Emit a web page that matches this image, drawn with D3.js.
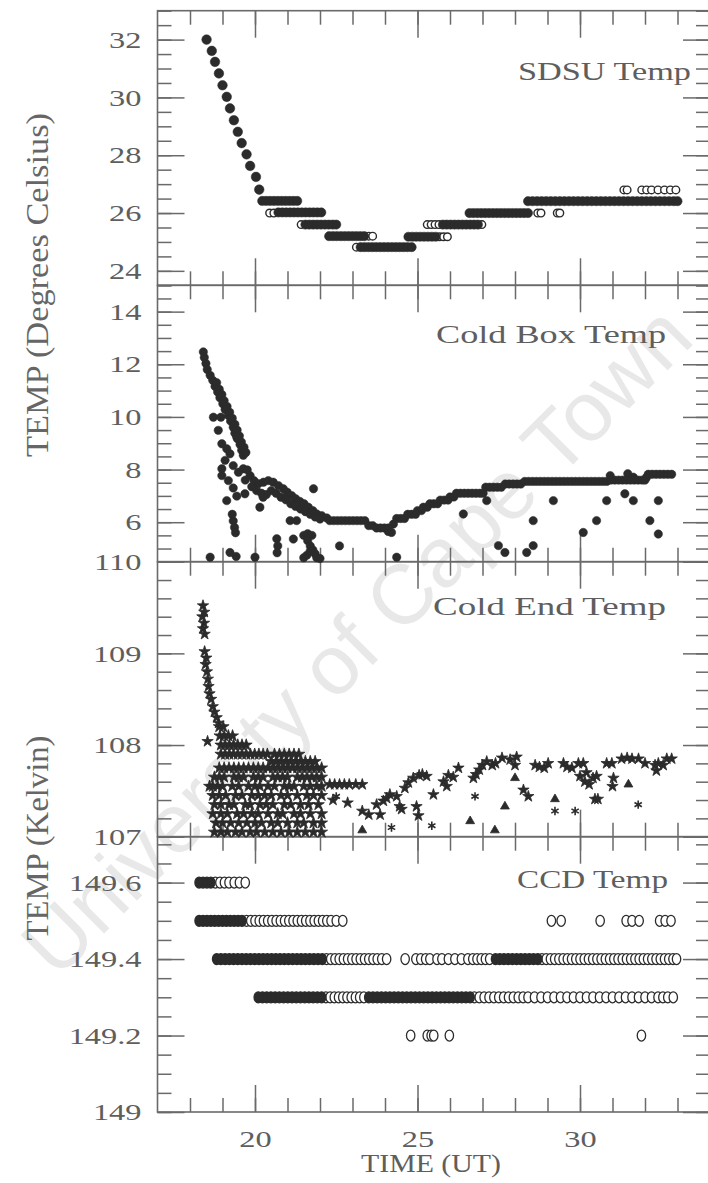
<!DOCTYPE html>
<meta charset="utf-8">
<script src="https://d3js.org/d3.v7.min.js"></script>
<style>
  body { margin: 0; background: #fff; }
  text { font-family: "Liberation Serif", "DejaVu Serif", serif; fill: #5e5e5e; }
  .tick text { font-size: 24px; }
  .tick line { stroke-width: 1.5; }
</style>
<div id="chart"></div>
<script>
// shared time axis (hours UT)
const timeDomain = [17, 34];
const timeTicks = [20, 25, 30];

// ---- SDSU Temp (deg C) ----
const sdsuTicks = [24, 26, 28, 30, 32];
const sdsuFall = [[18.51,32.0],[18.67,31.61],[18.77,31.23],[18.89,30.83],[19.0,30.42],[19.13,30.02],[19.23,29.62],
  [19.35,29.21],[19.47,28.81],[19.59,28.42],[19.74,28.03],[19.85,27.63],[20.03,27.25],[20.13,26.81]];
const sdsuRows = [
  [26.42, [20.22,20.34,20.46,20.58,20.7,20.82,20.94,21.06,21.18,21.3]],
  [26.02, [20.72,20.84,20.96,21.08,21.2,21.32,21.44,21.56,21.68,21.8,21.92,22.04]],
  [25.6, [21.55,21.67,21.79,21.91,22.03,22.15,22.27,22.39,22.5]],
  [25.2, [22.28,22.4,22.52,22.64,22.76,22.88,23.0,23.12,23.24,23.36]],
  [24.82, [23.25,23.37,23.49,23.61,23.73,23.85,23.97,24.09,24.21,24.33,24.45,24.57,24.69,24.82]],
  [25.18, [24.72,24.84,24.96,25.08,25.2,25.32,25.44,25.56]],
  [25.6, [25.78,25.9,26.02,26.14,26.26,26.38,26.5,26.62,26.74,26.86]],
  [26.0, [26.6,26.72,26.84,26.96,27.08,27.2,27.32,27.44,27.56,27.68,27.8,27.92,28.04,28.16,28.28,28.4]],
  [26.41, [28.4,28.54,28.68,28.82,28.96,29.1,29.24,29.38,29.52,29.66,29.8,29.94,30.08,30.22,30.36,30.5,30.64,
    30.78,30.92,31.06,31.2,31.34,31.48,31.62,31.76,31.9,32.04,32.18,32.32,32.46,32.6,32.74,32.88,33.0]]
];
const sdsuOpenRows = [
  [26.0, [20.45,20.58]], [25.6, [21.42]], [25.2, [23.5,23.62]], [24.82, [23.12]],
  [25.18, [25.68,25.8,25.92]], [25.6, [25.3,25.42,25.54,25.66,26.98]],
  [26.0, [28.7,28.8,29.3,29.38]],
  [26.8, [31.35,31.45,31.9,32.05,32.2,32.4,32.6,32.78,32.95]]
];

// ---- Cold Box Temp (deg C) ----
const coldBoxTicks = [6, 8, 10, 12, 14];
const coldBoxPts = [
  [18.41,12.47],[18.44,12.26],[18.49,12.03],[18.53,11.8],[18.62,11.58],[18.7,11.39],[18.77,11.16],[18.85,10.95],
  [18.92,10.73],[19.01,10.5],[19.08,10.28],[19.18,10.06],[19.25,9.84],[19.33,9.61],[19.38,9.38],[19.46,9.17],
  [19.54,8.95],[19.59,8.73],[19.64,8.54],
  [18.82,11.3],[18.9,11.05],[18.98,10.85],[19.05,10.62],[19.14,10.4],[19.22,10.18],[19.3,9.95],[19.38,9.72],
  [19.45,9.5],[19.52,9.28],[19.58,9.05],[19.66,8.85],[19.72,8.65],
  [18.72,9.99],[18.87,9.49],[18.98,8.98],[19.13,8.79],[19.23,8.6],[19.08,8.35],[18.98,8.03],[18.98,7.77],
  [19.18,7.58],[19.33,8.15],[19.44,9.23],[18.95,9.99],
  [19.49,7.9],[19.64,8.03],[19.76,7.99],[19.85,7.77],[19.97,7.58],[20.1,7.46],[20.26,7.52],[20.41,7.58],
  [20.56,7.52],[20.72,7.39],[20.87,7.27],[20.99,7.14],[21.13,7.01],[21.25,6.89],[21.38,6.79],[21.51,6.7],
  [21.64,6.57],[21.78,6.44],[21.9,6.31],[22.05,6.25],[22.21,6.16],
  [19.7,7.6],[19.9,7.35],[20.05,7.2],[20.2,7.1],[20.35,7.05],[20.5,7.2],[20.65,7.1],[20.8,6.95],[20.95,6.85],
  [21.1,6.7],[21.25,6.6],[21.4,6.5],[21.55,6.4],[21.7,6.3],[21.85,6.2],[22.0,6.12],
  [19.33,7.3],[19.44,6.99],[19.69,7.08],[20.15,6.57],[20.25,6.95],
  [19.13,6.82],[19.3,6.3],[19.33,6.05],[19.37,5.8],[19.4,5.6],[21.08,6.06],[21.28,6.06],[21.8,7.27],
  [20.67,5.37],[20.7,5.1],[20.68,4.84],[21.18,5.36],
  [21.5,5.5],[21.62,5.56],[21.75,5.5],[21.62,5.3],[21.7,5.1],[21.78,4.95],[21.85,4.8],[21.6,4.75],
  [21.9,4.65],[21.5,4.65],[22.0,4.62],[21.7,4.9],
  [22.6,5.1],[18.62,4.67],[19.23,4.85],[19.42,4.7],[20.0,4.67],[24.36,4.67],[26.41,6.31],[27.13,6.82],
  [27.49,5.11],[27.69,4.85],[28.36,4.85],[28.56,5.11],[28.56,6.06],[29.18,6.82],[30.1,5.61],[30.51,6.06],
  [30.82,6.82],[31.38,7.08],[31.64,6.82],[32.15,6.06],[32.41,6.82],[32.41,5.55],
  [24.1,5.65],[24.2,5.61],[24.26,5.93],[30.93,7.77],[31.47,7.84],[31.64,7.71],[32.05,7.71]
];
const coldBoxRows = [
  [6.06, [22.3,22.42,22.54,22.66,22.78,22.9,23.02,23.14,23.26,23.38]],
  [5.87, [23.5,23.62]],
  [5.78, [23.74,23.86,23.98,24.1]],
  [6.14, [24.36,24.48,24.6]],
  [6.3, [24.7,24.82,24.94]],
  [6.44, [25.0,25.12]],
  [6.57, [25.18,25.3]],
  [6.7, [25.38,25.5,25.62]],
  [6.84, [25.7,25.82,25.94]],
  [6.96, [26.0,26.12]],
  [7.1, [26.2,26.32,26.44,26.56,26.68,26.8,26.92,27.02]],
  [7.33, [27.1,27.22,27.34,27.46,27.58]],
  [7.45, [27.7,27.82,27.94,28.06,28.18]],
  [7.55, [28.3,28.42,28.54,28.66,28.78,28.9,29.02,29.14,29.26,29.38,29.5,29.62,29.74,29.86,29.98,30.1,30.22,
    30.34,30.46,30.58,30.7,30.82]],
  [7.6, [30.95,31.07,31.19,31.31,31.43,31.55,31.67,31.79,31.91,32.0]],
  [7.82, [32.1,32.22,32.34,32.46,32.58,32.7,32.82]]
];

// ---- Cold End Temp (K) ----
const coldEndTicks = [107, 108, 109, 110];
const coldEndPts = [
  [18.4,109.52],[18.44,109.45],[18.38,109.4],[18.43,109.33],[18.4,109.27],[18.45,109.21],[18.45,109.02],
  [18.5,108.95],[18.48,108.88],[18.52,108.8],[18.55,108.72],[18.57,108.64],[18.6,108.56],[18.65,108.5],
  [18.7,108.42],[18.75,108.36],[18.82,108.3],[18.88,108.24],[18.54,108.04],
  [22.3,107.57],[22.45,107.57],[22.6,107.57],[22.75,107.57],[22.9,107.57],[23.1,107.57],[23.3,107.57],
  [22.4,107.4],[22.85,107.37],[23.3,107.28],[23.5,107.24],
  [23.74,107.35],[23.85,107.24],[23.95,107.39],[24.05,107.42],[24.15,107.46],[24.36,107.44],[24.51,107.3],
  [24.45,107.33],[24.61,107.53],[24.72,107.59],[24.97,107.33],[25.03,107.23],
  [24.87,107.64],[25.05,107.67],[25.28,107.66],[25.15,107.68],[25.49,107.46],
  [25.8,107.6],[25.9,107.55],[25.95,107.67],[26.1,107.65],[26.26,107.75],
  [26.72,107.64],[26.8,107.68],[26.9,107.73],[27.0,107.78],[27.13,107.82],
  [27.3,107.78],[27.4,107.8],[27.6,107.86],[27.85,107.84],[28.05,107.87],[28.0,107.78],
  [28.26,107.51],[28.41,107.44],[28.62,107.78],[28.75,107.76],[28.9,107.75],[29.02,107.8],
  [29.49,107.8],[29.6,107.76],[29.75,107.75],[29.95,107.8],[30.1,107.8],
  [30.0,107.66],[30.15,107.6],[30.28,107.57],[30.4,107.64],[30.51,107.66],[30.2,107.7],
  [30.46,107.41],[30.55,107.41],[30.82,107.8],[30.98,107.8],[31.03,107.64],[31.0,107.55],
  [31.28,107.85],[31.45,107.86],[31.6,107.85],[31.8,107.85],[32.0,107.8],
  [32.31,107.78],[32.41,107.8],[32.35,107.72],[32.67,107.85],[32.82,107.85],[32.56,107.78]
];
const coldEndRows = [
  [108.2, [18.9,19.02]],
  [108.1, [18.92,19.05,19.18,19.31]],
  [108.0, [18.95,19.08,19.21,19.34,19.47,19.6,19.73]],
  [107.9, [18.95,19.08,19.21,19.34,19.47,19.6,19.73,19.86,19.99,20.12,20.25,20.38,20.6,20.75,20.9,21.05,21.2,21.35]],
  [107.82, [20.5,20.65,20.8,20.95,21.1,21.25,21.4,21.55,21.7,21.85]],
  [107.75, [18.9,19.05,19.2,19.35,19.5,19.65,19.8,19.95,20.1,20.25,20.4,20.55,20.7,20.85,21.0,21.15,21.3,21.45,
    21.6,21.75,21.9,22.05]],
  [107.65, [18.75,18.9,19.05,19.35,19.5,19.65,19.95,20.1,20.25,20.55,20.7,20.85,21.0,21.3,21.45,21.6,21.75,21.9,22.05]],
  [107.55, [18.6,18.7,18.85,19.0,19.3,19.5,19.8,20.0,20.15,20.4,20.6,20.9,21.05,21.2,21.5,21.7,21.9,22.05]],
  [107.45, [18.7,18.9,19.1,19.4,19.6,19.9,20.1,20.3,20.5,20.8,21.0,21.3,21.6,21.8,22.05]],
  [107.35, [18.75,18.95,19.2,19.35,19.7,19.85,20.15,20.35,20.55,20.9,21.1,21.4,21.65,21.95]],
  [107.25, [18.7,18.95,19.15,19.45,19.65,19.9,20.1,20.4,20.7,20.85,21.2,21.4,21.7,22.05]],
  [107.15, [18.8,19.0,19.25,19.5,19.75,20.0,20.2,20.5,20.7,21.0,21.3,21.5,21.8,22.05]],
  [107.05, [18.75,18.95,19.15,19.4,19.6,19.85,20.05,20.3,20.55,20.8,21.05,21.3,21.55,21.8,22.05]]
];
const coldEndTri = [[23.3,107.07],[26.62,107.17],[27.38,107.07],[27.69,107.33],[28.0,107.64],[29.23,107.41],[31.49,107.57]];
const coldEndAst = [[22.5,107.44],[24.2,107.1],[25.44,107.12],[26.77,107.44],[29.23,107.28],[29.85,107.28],[31.79,107.35]];

// ---- CCD Temp (K) ----
const ccdTicks = [149, 149.2, 149.4, 149.6];
const ccdFilledRows = [
  [149.6, [18.28,18.4,18.52,18.64]],
  [149.5, [18.28,18.4,18.52,18.64,18.76,18.88,19.0,19.12,19.24,19.36,19.48,19.6]],
  [149.4, [18.82,18.95,19.08,19.21,19.34,19.47,19.6,19.73,19.86,19.99,20.12,20.25,20.38,20.51,20.64,20.77,20.9,
    21.03,21.16,21.29,21.42,21.55,21.68,21.81,21.94,22.07,27.4,27.53,27.66,27.79,27.92,28.05,28.18,28.31,28.44,28.57,28.7]],
  [149.3, [20.1,20.23,20.36,20.49,20.62,20.75,20.88,21.01,21.14,21.27,21.4,21.53,21.66,21.79,21.92,22.05,
    23.5,23.63,23.76,23.89,24.02,24.15,24.28,24.41,24.54,24.67,24.8,24.93,25.06,25.19,25.32,25.45,25.58,25.71,
    25.84,25.97,26.1,26.23,26.36,26.49,26.62]]
];
const ccdOpenRows = [
  [149.6, [18.78,18.92,19.06,19.2,19.36,19.52,19.7]],
  [149.5, [19.74,19.87,20.0,20.13,20.26,20.39,20.52,20.65,20.78,20.91,21.04,21.17,21.3,21.43,21.56,21.69,21.82,
    21.95,22.08,22.21,22.34,22.5,22.7,29.12,29.42,30.62,31.42,31.6,31.82,32.45,32.62,32.8]],
  [149.4, [22.2,22.33,22.46,22.59,22.72,22.85,22.98,23.11,23.24,23.37,23.5,23.63,23.76,23.9,24.05,
    24.62,24.95,25.1,25.25,25.38,25.6,25.75,25.95,26.15,26.35,26.55,26.7,26.83,26.96,27.09,27.22,
    28.83,28.96,29.09,29.22,29.35,29.48,29.61,29.74,29.87,30.0,30.13,30.26,30.39,30.52,30.65,30.78,30.91,
    31.04,31.17,31.3,31.43,31.56,31.69,31.82,31.95,32.08,32.21,32.34,32.47,32.6,32.73,32.86,32.97]],
  [149.3, [22.18,22.31,22.44,22.57,22.7,22.83,22.96,23.09,23.22,23.35,26.75,26.9,27.05,27.2,27.35,27.5,27.65,
    27.8,27.95,28.1,28.25,28.4,28.6,28.8,29.0,29.2,29.4,29.6,29.8,30.0,30.2,30.4,30.6,30.8,31.0,31.2,31.4,
    31.6,31.8,32.0,32.2,32.4,32.55,32.7,32.87]],
  [149.2, [24.79,25.3,25.42,25.5,25.98,31.89]]
];

// rows of [y, [x...]] -> points
const expand = rows => rows.flatMap(([y, xs]) => xs.map(xv => [xv, y]));

const W = 708, H = 1183;
const left = 157.5, right = 710;
const ink = "#2b2b2b";

const panels = [
  {title: "SDSU Temp", domain: [23.5, 33], ticks: sdsuTicks, minor: 0.5, top: 10.7, bottom: 285.3,
   tx: 518, ty: 80, tlen: 173},
  {title: "Cold Box Temp", domain: [4.5, 15], ticks: coldBoxTicks, minor: 0.5, top: 285.3, bottom: 561.7,
   tx: 436, ty: 343, tlen: 230},
  {title: "Cold End Temp", domain: [107, 110], ticks: coldEndTicks, minor: 0.2, top: 561.7, bottom: 836.7,
   tx: 433, ty: 615, tlen: 233},
  {title: "CCD Temp", domain: [149, 149.72], ticks: ccdTicks, minor: 0.05, top: 836.7, bottom: 1112,
   tx: 517, ty: 888, tlen: 151}
];
panels.forEach(p => p.y = d3.scaleLinear().domain(p.domain).range([p.bottom, p.top]));

const x = d3.scaleLinear().domain(timeDomain).range([left, right]);

const svg = d3.select("#chart").append("svg")
  .attr("width", W).attr("height", H).style("display", "block");

// faint watermark behind the plot
svg.append("text")
  .attr("transform", "translate(356,640) rotate(-45)")
  .attr("text-anchor", "middle")
  .attr("dy", "0.35em")
  .style("font-family", "'Liberation Sans', Arial, sans-serif")
  .style("font-size", "84px")
  .style("fill", "#e8e8e8")
  .text("University of Cape Town");

const fmt = d => String(+d.toFixed(1));
const tickScale = 1.35;
const minorX = d3.range(18, 34);

function minorValues(dom, step) {
  const n0 = Math.ceil(dom[0] / step - 1e-6), n1 = Math.floor(dom[1] / step + 1e-6);
  return d3.range(n0, n1 + 1).map(n => +(n * step).toFixed(3));
}

panels.forEach((p, i) => {
  const g = svg.append("g").attr("color", "#6a6a6a");
  const y = p.y;
  const minorY = minorValues(p.domain, p.minor);

  // left axis, ticks pointing inward
  g.append("g").attr("transform", `translate(${left},0)`)
    .call(d3.axisLeft(y).tickValues(minorY).tickSize(-14).tickFormat(""))
    .call(a => a.select(".domain").remove());
  g.append("g").attr("transform", `translate(${left},0)`)
    .call(d3.axisLeft(y).tickValues(p.ticks).tickSize(-27).tickPadding(16).tickFormat(fmt))
    .call(a => a.select(".domain").remove())
    .call(a => a.selectAll("text").attr("x", -16 / tickScale).attr("transform", `scale(${tickScale},1)`));

  // right axis
  g.append("g").attr("transform", `translate(${right},0)`)
    .call(d3.axisRight(y).tickValues(minorY).tickSize(-14).tickFormat(""))
    .call(a => a.select(".domain").remove());
  g.append("g").attr("transform", `translate(${right},0)`)
    .call(d3.axisRight(y).tickValues(p.ticks).tickSize(-27).tickFormat(""))
    .call(a => a.select(".domain").remove());

  // top and bottom time ticks
  g.append("g").attr("transform", `translate(0,${p.top})`)
    .call(d3.axisTop(x).tickValues(minorX).tickSize(-14).tickFormat(""))
    .call(a => a.select(".domain").remove());
  g.append("g").attr("transform", `translate(0,${p.top})`)
    .call(d3.axisTop(x).tickValues(timeTicks).tickSize(-27).tickFormat(""))
    .call(a => a.select(".domain").remove());
  g.append("g").attr("transform", `translate(0,${p.bottom})`)
    .call(d3.axisBottom(x).tickValues(minorX).tickSize(-14).tickFormat(""))
    .call(a => a.select(".domain").remove());
  const last = i === panels.length - 1;
  g.append("g").attr("transform", `translate(0,${p.bottom})`)
    .call(d3.axisBottom(x).tickValues(timeTicks).tickSize(-27).tickPadding(18)
      .tickFormat(last ? d3.format("d") : ""))
    .call(a => a.select(".domain").remove())
    .call(a => a.selectAll("text").attr("transform", `scale(${tickScale},1)`));

  g.append("rect")
    .attr("x", left).attr("y", p.top)
    .attr("width", right - left).attr("height", p.bottom - p.top)
    .attr("fill", "none").attr("stroke", "#6a6a6a").attr("stroke-width", 1.6);

  svg.append("text")
    .attr("x", p.tx).attr("y", p.ty)
    .attr("textLength", p.tlen).attr("lengthAdjust", "spacingAndGlyphs")
    .style("font-size", "25px")
    .text(p.title);
});

// ---- markers ----
const [pS, pB, pE, pC] = panels;

const dots = (data, py, r, open) => svg.append("g").selectAll("circle")
  .data(data).join("circle")
  .attr("cx", d => x(d[0])).attr("cy", d => py(d[1])).attr("r", r)
  .attr("fill", open ? "#fff" : ink)
  .attr("stroke", ink).attr("stroke-width", open ? 1.4 : 0.5);

dots(sdsuFall, pS.y, 4.8, false);
dots(expand(sdsuOpenRows), pS.y, 3.8, true);
dots(expand(sdsuRows), pS.y, 4.6, false);

dots(coldBoxPts, pB.y, 4.2, false);
dots(expand(coldBoxRows), pB.y, 4.2, false);

const sym = (data, py, type, size, stroke) => svg.append("g").selectAll("path")
  .data(data).join("path")
  .attr("transform", d => `translate(${x(d[0])},${py(d[1])})`)
  .attr("d", d3.symbol(type, size))
  .attr("fill", stroke ? "none" : ink)
  .attr("stroke", ink).attr("stroke-width", stroke ? 1.6 : 0.8);

sym(coldEndPts, pE.y, d3.symbolStar, 40, false);
sym(expand(coldEndRows), pE.y, d3.symbolStar, 44, false);
sym(coldEndTri, pE.y, d3.symbolTriangle, 34, false);
sym(coldEndAst, pE.y, d3.symbolAsterisk, 50, true);

const ovals = (data, py, open) => svg.append("g").selectAll("ellipse")
  .data(data).join("ellipse")
  .attr("cx", d => x(d[0])).attr("cy", d => py(d[1]))
  .attr("rx", 4.2).attr("ry", 5.5)
  .attr("fill", open ? "#fff" : ink)
  .attr("stroke", ink).attr("stroke-width", 1.3);

ovals(expand(ccdOpenRows), pC.y, true);
ovals(expand(ccdFilledRows), pC.y, false);

// ---- axis titles ----
const ylab = (label, cy, len) => svg.append("g")
  .attr("transform", `translate(48,${cy}) scale(1.35,1)`)
  .append("text")
  .attr("transform", "rotate(-90)")
  .attr("text-anchor", "middle")
  .attr("textLength", len).attr("lengthAdjust", "spacingAndGlyphs")
  .style("font-size", "24px")
  .style("fill", "#666")
  .text(label);

ylab("TEMP (Degrees Celsius)", 285, 344);
ylab("TEMP (Kelvin)", 838, 205);

svg.append("text")
  .attr("x", 431).attr("y", 1172)
  .attr("text-anchor", "middle")
  .attr("textLength", 140).attr("lengthAdjust", "spacingAndGlyphs")
  .style("font-size", "25px")
  .text("TIME (UT)");
</script>
